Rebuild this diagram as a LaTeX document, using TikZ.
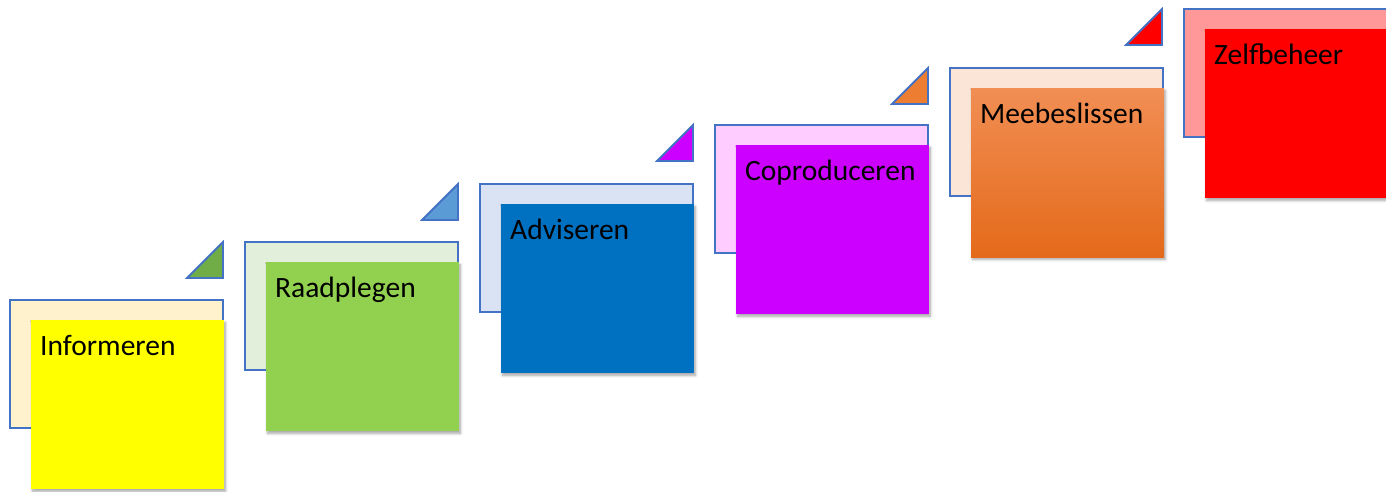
\documentclass[tikz,border=0pt]{standalone}
\usepackage{fontspec}
\setmainfont{Carlito}
\usetikzlibrary{shadows.blur,calc}
\definecolor{edge}{HTML}{4472C4}
\definecolor{back1}{HTML}{FFF2CC}
\definecolor{back2}{HTML}{E2EFDA}
\definecolor{back3}{HTML}{DAE3F3}
\definecolor{back4}{HTML}{FFCCFF}
\definecolor{back5}{HTML}{FBE5D6}
\definecolor{back6}{HTML}{FF9999}
\definecolor{tri2}{HTML}{70AD47}
\definecolor{tri3}{HTML}{5B9BD5}
\definecolor{tri4}{HTML}{CC00FF}
\definecolor{tri5}{HTML}{ED7D31}
\definecolor{tri6}{HTML}{FF0000}
\tikzset{
  backbox/.style={draw=edge, line width=1.8pt, minimum width=213pt, minimum height=128pt,
    anchor=north west, inner sep=0pt, outer sep=0pt},
  frontbox/.style={minimum width=193pt, minimum height=169pt, anchor=north west,
    inner sep=0pt, outer sep=0pt,
    blur shadow={shadow xshift=1.5pt, shadow yshift=-2.5pt, shadow blur steps=6,
      shadow blur radius=2.5pt, shadow opacity=35}},
  f1/.style={fill={rgb,255:red,255;green,255;blue,0}},
  f2/.style={fill={rgb,255:red,146;green,208;blue,80}},
  f3/.style={fill={rgb,255:red,0;green,112;blue,192}},
  f4/.style={fill={rgb,255:red,204;green,0;blue,255}},
  f5/.style={top color={rgb,255:red,241;green,142;blue,84},
             middle color={rgb,255:red,242;green,124;blue,40},
             bottom color={rgb,255:red,228;green,106;blue,26}},
  f6/.style={fill={rgb,255:red,255;green,0;blue,0}},
  lab/.style={anchor=base west, font=\fontsize{29.5}{32}\selectfont, inner sep=0pt, text=black},
  tri/.style={draw=edge, line width=1.8pt, line join=miter},
}
\begin{document}
\begin{tikzpicture}[x=1pt,y=-1pt]
\useasboundingbox (0,0) rectangle (1386,491);
\clip (0,0) rectangle (1386,491);
\foreach \i/\bx/\by/\txt in {1/10/300/Informeren, 2/245/242/Raadplegen, 3/480/184/Adviseren,
    4/715/125/Coproduceren, 5/950/68/Meebeslissen, 6/1184/9/Zelfbeheer} {
  \node[backbox, fill=back\i] (b\i) at (\bx,\by) {};
  \node[frontbox, f\i] (f\i) at ($(b\i.north west)+(21,20)$) {};
  \node[lab] (t\i) at ($(f\i.north west)+(9,35)$) {\txt};
}
\foreach \i in {2,...,6} {
  \draw[tri, fill=tri\i] ($(b\i.north west)+(-58,36)$) -- ($(b\i.north west)+(-22,36)$)
    -- ($(b\i.north west)+(-22,0)$) -- cycle;
}
\end{tikzpicture}
\end{document}
